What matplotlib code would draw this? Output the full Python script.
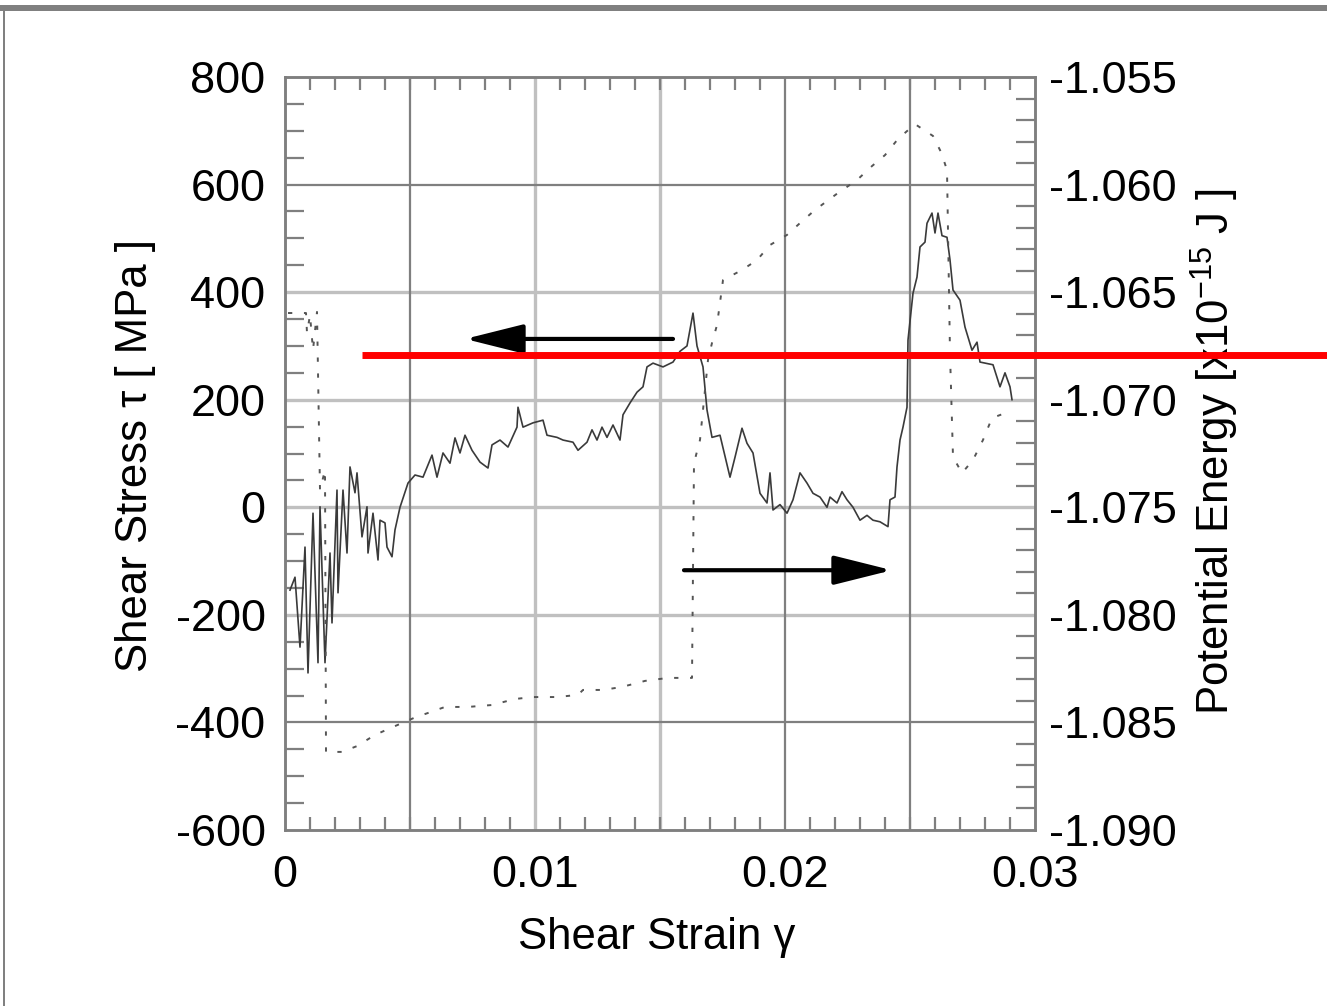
import matplotlib
matplotlib.use("Agg")
import matplotlib.pyplot as plt
from matplotlib.ticker import FixedLocator, MultipleLocator, FixedFormatter
from matplotlib.lines import Line2D
from matplotlib.patches import Rectangle

plt.rcParams['font.family'] = ['Liberation Sans', 'DejaVu Sans']
plt.rcParams['axes.unicode_minus'] = False
plt.rcParams['mathtext.default'] = 'regular'

# ---------------- data ----------------
stress_strain = [0.0002, 0.0004, 0.0006, 0.0008, 0.00092, 0.00112, 0.00132, 0.0014, 0.0016, 0.0018,
                 0.00188, 0.00208, 0.00212, 0.00232, 0.00248, 0.0026, 0.0028, 0.00288, 0.00308, 0.00328,
                 0.00332, 0.00352, 0.00372, 0.0038, 0.004, 0.00408, 0.00428, 0.0044, 0.0046, 0.00492,
                 0.0052, 0.00552, 0.00588, 0.00608, 0.00632, 0.0066, 0.0068, 0.007, 0.0072, 0.00748,
                 0.0078, 0.00812, 0.00828, 0.0086, 0.00892, 0.00928, 0.00932, 0.00952, 0.00992, 0.01032,
                 0.01048, 0.01088, 0.01112, 0.01152, 0.01172, 0.01208, 0.01228, 0.01248, 0.01268, 0.01288,
                 0.01312, 0.0134, 0.01352, 0.0138, 0.01408, 0.01432, 0.01448, 0.01472, 0.01512, 0.01552,
                 0.0158, 0.01608, 0.01632, 0.01648, 0.01672, 0.01688, 0.01708, 0.0174, 0.01768, 0.0178,
                 0.018, 0.01828, 0.01848, 0.01872, 0.019, 0.01928, 0.0194, 0.01952, 0.0198, 0.02008,
                 0.02032, 0.0206, 0.02088, 0.02112, 0.0214, 0.02168, 0.0218, 0.02208, 0.02228, 0.02248,
                 0.02272, 0.023, 0.02328, 0.02352, 0.0238, 0.02412, 0.0242, 0.0244, 0.02448, 0.0246,
                 0.02472, 0.02488, 0.02492, 0.02512, 0.02528, 0.0254, 0.0256, 0.02568, 0.02588, 0.026,
                 0.02612, 0.02628, 0.02648, 0.0266, 0.02672, 0.027, 0.0272, 0.02748, 0.02768, 0.0278,
                 0.02832, 0.0286, 0.0288, 0.029, 0.02908]
stress = [-154, -130, -260, -74, -308, -11, -289, 1, -289, -85,
          -215, 32, -159, 32, -85, 75, 27, 64, -55, 1,
          -85, -11, -98, -24, -29, -74, -92, -42, 0, 45,
          60, 56, 97, 56, 101, 82, 129, 101, 134, 106,
          84, 73, 116, 125, 112, 149, 186, 149, 157, 162,
          134, 130, 125, 121, 106, 121, 144, 125, 149, 130,
          153, 125, 172, 194, 214, 224, 261, 268, 261, 270,
          290, 300, 361, 300, 261, 181, 130, 134, 79, 56,
          93, 147, 119, 101, 26, 8, 64, -5, 5, -11,
          14, 64, 45, 26, 19, 0, 19, 8, 29, 14,
          0, -24, -15, -24, -27, -36, 14, 19, 75, 125,
          149, 186, 311, 398, 428, 484, 493, 528, 547, 510,
          547, 505, 502, 460, 404, 385, 335, 292, 307, 270,
          265, 224, 250, 224, 200]

energy_strain = [0.00012, 0.00084, 0.00088, 0.0010, 0.00112, 0.00128, 0.0014, 0.0016, 0.00164, 0.00228,
                 0.00288, 0.0036, 0.00432, 0.00516, 0.00572, 0.0064, 0.00732, 0.00828, 0.0092, 0.00992,
                 0.01088, 0.01172, 0.01192, 0.01272, 0.01348, 0.0144, 0.01532, 0.01628, 0.01636, 0.0166,
                 0.01692, 0.01708, 0.01728, 0.01752, 0.01828, 0.01888, 0.0194, 0.02008, 0.0206, 0.0212,
                 0.02212, 0.02288, 0.02348, 0.024, 0.02452, 0.0252, 0.02592, 0.02624, 0.02648, 0.0266,
                 0.02672, 0.02708, 0.02752, 0.02792, 0.02828, 0.02872]
energy = [-1.06597, -1.06597, -1.06690, -1.06606, -1.06769, -1.06592, -1.07420, -1.07327, -1.08637, -1.08637,
          -1.08610, -1.08558, -1.08521, -1.08479, -1.08456, -1.08428, -1.08428, -1.08419, -1.08391, -1.08382,
          -1.08382, -1.08372, -1.08349, -1.08349, -1.08335, -1.08307, -1.08293, -1.08293, -1.07294, -1.07187,
          -1.06815, -1.06736, -1.06653, -1.06444, -1.06397, -1.06351, -1.06281, -1.06234, -1.06179, -1.06118,
          -1.06039, -1.05979, -1.05914, -1.05863, -1.05788, -1.05719, -1.05774, -1.05849, -1.05932, -1.06783,
          -1.07266, -1.07341, -1.07280, -1.07187, -1.07085, -1.07066]

x_ticks = [0, 0.01, 0.02, 0.03]
x_tick_labels = ["0", "0.01", "0.02", "0.03"]
left_ticks = [-600, -400, -200, 0, 200, 400, 600, 800]
right_ticks = [-1.090, -1.085, -1.080, -1.075, -1.070, -1.065, -1.060, -1.055]
right_tick_labels = ["-1.090", "-1.085", "-1.080", "-1.075", "-1.070", "-1.065", "-1.060", "-1.055"]

# arrows (annotation): (start strain, end strain, stress level)
arrow_left = (0.01552, 0.0072, 313)
arrow_right = (0.01596, 0.02428, -117)

dark_vgrid = [0.005, 0.02, 0.025]
light_vgrid = [0.01, 0.015]
dark_hgrid = [600, -400]
light_hgrid = [400, 200, 0, -200]

# ---------------- figure ----------------
W, H = 1327, 1006
fig = plt.figure(figsize=(W / 100, H / 100), dpi=100)
ax = fig.add_axes([285 / W, 1 - 830 / H, (1035 - 285) / W, (830 - 77) / H])
ax2 = ax.twinx()

DARK = '#7f7f7f'
LIGHT = '#c0c0c0'
FS = 32.5
LFS = 31.5

for v in light_vgrid:
    ax.axvline(v, color=LIGHT, lw=2.4, zorder=0.5)
for v in light_hgrid:
    ax.axhline(v, color=LIGHT, lw=2.4, zorder=0.5)
for v in dark_vgrid:
    ax.axvline(v, color=DARK, lw=1.6, zorder=0.6)
for v in dark_hgrid:
    ax.axhline(v, color=DARK, lw=1.6, zorder=0.6)

ax.plot(stress_strain, stress, color='#3a3a3a', lw=1.2, zorder=3)
ax2.plot(energy_strain, energy, color='#555555', lw=1.4, linestyle=(0, (2.2, 6.0)), zorder=3)

ax.set_xlim(0, 0.03)
ax.set_ylim(-600, 800)
ax2.set_ylim(-1.090, -1.055)

ax.xaxis.set_major_locator(FixedLocator(x_ticks))
ax.xaxis.set_major_formatter(FixedFormatter(x_tick_labels))
ax.xaxis.set_minor_locator(MultipleLocator(0.001))
ax.yaxis.set_major_locator(FixedLocator(left_ticks))
ax.yaxis.set_minor_locator(MultipleLocator(50))
ax2.yaxis.set_major_locator(FixedLocator(right_ticks))
ax2.yaxis.set_major_formatter(FixedFormatter(right_tick_labels))
ax2.yaxis.set_minor_locator(MultipleLocator(0.001))

ax.tick_params(axis='x', which='major', direction='in', length=0, pad=18, labelsize=FS, top=True)
ax.tick_params(axis='x', which='minor', direction='in', length=9.5, width=1.6, color=DARK, top=True)
ax.tick_params(axis='y', which='major', direction='in', length=0, pad=14, labelsize=FS)
ax.tick_params(axis='y', which='minor', direction='in', length=14, width=1.6, color=DARK)
ax2.tick_params(axis='y', which='major', direction='in', length=0, pad=10, labelsize=FS)
ax2.tick_params(axis='y', which='minor', direction='in', length=14, width=1.6, color=DARK)

for a in (ax, ax2):
    for s in a.spines.values():
        s.set_color(DARK)
        s.set_linewidth(1.8)

ax.annotate('', xy=(arrow_left[1], arrow_left[2]), xytext=(arrow_left[0], arrow_left[2]),
            arrowprops=dict(arrowstyle='-|>,head_length=1.8,head_width=0.45', mutation_scale=20,
                            lw=3.0, color='black', shrinkA=0, shrinkB=0), zorder=4)
ax.annotate('', xy=(arrow_right[1], arrow_right[2]), xytext=(arrow_right[0], arrow_right[2]),
            arrowprops=dict(arrowstyle='-|>,head_length=1.8,head_width=0.45', mutation_scale=20,
                            lw=3.0, color='black', shrinkA=0, shrinkB=0), zorder=4)

fig.text(657 / W, 1 - 938 / H, 'Shear Strain γ', ha='center', va='center', fontsize=LFS)
fig.text(135 / W, 1 - 455 / H, 'Shear Stress τ [ MPa ]', ha='center', va='center',
         rotation=90, fontsize=LFS)
fig.text(1215 / W, 1 - 452 / H, r'Potential Energy [x10$^{-15}$ J ]', ha='center', va='center',
         rotation=90, fontsize=LFS)

# outer frame of the scanned image
fig.add_artist(Rectangle((0, 1 - 11 / H), 1, 6 / H, transform=fig.transFigure,
                         color='#808080', lw=0))
fig.add_artist(Rectangle((2.5 / W, 0), 2 / W, 1 - 8 / H, transform=fig.transFigure,
                         color='#808080', lw=0))

# red overlay line
fig.add_artist(Line2D([362 / W, 1.0], [1 - 355 / H, 1 - 355 / H], transform=fig.transFigure,
                      color='#ff0000', lw=5.0, zorder=10, solid_capstyle='butt'))

fig.savefig('out.png', dpi=100)
